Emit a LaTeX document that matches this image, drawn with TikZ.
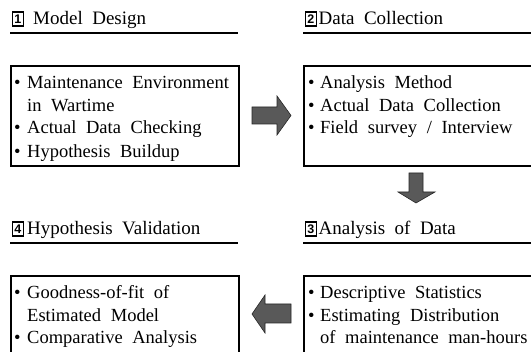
\documentclass[tikz,border=0pt]{standalone}
\usepackage{fontspec}
\setmainfont{Liberation Serif}
\setsansfont{Liberation Sans}
\definecolor{arrowgray}{HTML}{595959}
\newcommand\boxfont{\fontsize{18.5}{23}\selectfont\spaceskip 0.52em\relax}
\newcommand\titlefont{\fontsize{19}{23}\selectfont\spaceskip 0.5em\relax}
\tikzset{
  txt/.style={anchor=base west, inner sep=0pt, font=\boxfont},
  ttl/.style={anchor=base west, inner sep=0pt, font=\titlefont},
  frame/.style={draw, line width=1.6pt, inner sep=0pt, anchor=north west},
  rulebar/.style={line width=1.6pt},
  blockarrow/.style={fill=arrowgray, draw=black!85, line width=0.6pt},
  numbox/.style={draw, line width=1.7pt, minimum width=11pt, minimum height=13.5pt, inner sep=0pt, anchor=north west,
    font=\sffamily\bfseries\fontsize{12.5}{12.5}\selectfont}
}
\begin{document}
\begin{tikzpicture}[x=1pt,y=-1pt]
\useasboundingbox (0,0) rectangle (531,352);
% titles
\node[numbox] (n1) at (11.5,11.5) {1};
\node[ttl] (t1) at (33,25) {Model Design};
\node[numbox] (n2) at (304.5,11.5) {2};
\node[ttl] (t2) at (318.5,25) {Data Collection};
\node[numbox] (n4) at (11.5,221.5) {4};
\node[ttl] (t4) at (27,235) {Hypothesis Validation};
\node[numbox] (n3) at (304.5,221.5) {3};
\node[ttl] (t3) at (318.5,235) {Analysis of Data};
% underlines
\coordinate (u1a) at (10,33); \coordinate (u1b) at (238,33);
\coordinate (u2a) at (303,33); \coordinate (u2b) at (535,33);
\coordinate (u4a) at (10,243); \coordinate (u4b) at (238,243);
\coordinate (u3a) at (303,243); \coordinate (u3b) at (535,243);
\draw[rulebar] (u1a) -- (u1b);
\draw[rulebar] (u2a) -- (u2b);
\draw[rulebar] (u4a) -- (u4b);
\draw[rulebar] (u3a) -- (u3b);
% frames
\node[frame, minimum width=228pt, minimum height=100pt] (f1) at (10,65) {};
\node[frame, minimum width=240pt, minimum height=100pt] (f2) at (303,65) {};
\node[frame, minimum width=228pt, minimum height=100pt] (f4) at (10,275) {};
\node[frame, minimum width=240pt, minimum height=100pt] (f3) at (303,275) {};
% box 1
\node[txt] (b1a) at (14,89) {•};
\node[txt] (l1a) at (27,89) {Maintenance Environment};
\node[txt] (l1b) at (27,112) {in Wartime};
\node[txt] (b1c) at (14,134) {•};
\node[txt] (l1c) at (27,134) {Actual Data Checking};
\node[txt] (b1d) at (14,158) {•};
\node[txt] (l1d) at (27,158) {Hypothesis Buildup};
% box 2
\node[txt] (b2a) at (308,89) {•};
\node[txt] (l2a) at (320,89) {Analysis Method};
\node[txt] (b2b) at (308,112) {•};
\node[txt] (l2b) at (320,112) {Actual Data Collection};
\node[txt] (b2c) at (308,134) {•};
\node[txt] (l2c) at (320,134) {Field survey / Interview};
% box 3
\node[txt] (b3a) at (308,299) {•};
\node[txt] (l3a) at (320,299) {Descriptive Statistics};
\node[txt] (b3b) at (308,322) {•};
\node[txt] (l3b) at (320,322) {Estimating Distribution};
\node[txt] (l3c) at (320,344) {of maintenance man-hours};
% box 4
\node[txt] (b4a) at (14,299) {•};
\node[txt] (l4a) at (27,299) {Goodness-of-fit of};
\node[txt] (l4b) at (27,322) {Estimated Model};
\node[txt] (b4c) at (14,344) {•};
\node[txt] (l4c) at (27,344) {Comparative Analysis};
% block arrows
\draw[blockarrow] (252,107) -- (277,107) -- (277,96) -- (291,115.5) -- (277,135) -- (277,124) -- (252,124) -- cycle;
\draw[blockarrow] (409,173) -- (423,173) -- (423,192) -- (435,192) -- (416,203) -- (398,192) -- (409,192) -- cycle;
\draw[blockarrow] (291,304) -- (265,304) -- (265,295) -- (252,314) -- (265,333) -- (265,323) -- (291,323) -- cycle;
\end{tikzpicture}
\end{document}
